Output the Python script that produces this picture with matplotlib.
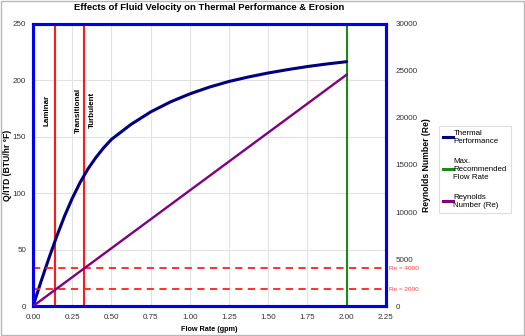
import matplotlib
matplotlib.use("Agg")
import matplotlib.pyplot as plt
import numpy as np

plt.rcParams['font.family'] = ['Liberation Sans', 'DejaVu Sans']

flow = [0.0, 0.05, 0.10, 0.15, 0.20, 0.25, 0.30, 0.35, 0.40, 0.45, 0.50, 0.625, 0.75, 0.875,
        1.00, 1.125, 1.25, 1.375, 1.50, 1.625, 1.75, 1.875, 2.00]
thermal = [0, 21.5, 42, 61.5, 79.5, 95.5, 109.5, 121.5, 131.5, 140.2, 147.7, 161, 172, 180.8,
           188, 194, 199, 203, 206.5, 209.5, 212.2, 214.5, 216.5]
re_flow = [0.0, 2.0]
reynolds = [0, 24600]
laminar_x = 0.137
transitional_x = 0.322
max_flow = 2.0
re_levels = [4000, 1800]
re_labels = ["Re = 4000", "Re = 2000"]
x_ticks = [0.0, 0.25, 0.5, 0.75, 1.0, 1.25, 1.5, 1.75, 2.0, 2.25]
y_ticks = [0, 50, 100, 150, 200, 250]
y2_ticks = [0, 5000, 10000, 15000, 20000, 25000, 30000]

fig = plt.figure(figsize=(5.25, 3.36), dpi=100)
fig.patch.set_facecolor('white')
fig.add_artist(plt.Rectangle((0.002, 0.003), 0.996, 0.994, transform=fig.transFigure,
                             fill=False, edgecolor='#b8b8b8', linewidth=1.0))

ax = fig.add_axes([0.063, 0.089, 0.672, 0.84])
ax2 = ax.twinx()

ax.set_xlim(0, 2.25)
ax.set_ylim(0, 250)
ax2.set_ylim(0, 30000)
ax.set_xticks(x_ticks)
ax.set_xticklabels([f"{v:.2f}" for v in x_ticks])
ax.set_yticks(y_ticks)
ax2.set_yticks(y2_ticks)
ax.grid(True, color='#e2e2e2', linewidth=0.8)
ax.set_axisbelow(True)

for a in (ax, ax2):
    for s in a.spines.values():
        s.set_color('#0000ee')
        s.set_linewidth(2.2)
    a.tick_params(length=0, labelsize=5.8, colors='#333333')
ax.tick_params(axis='y', pad=5)
ax.tick_params(axis='x', pad=6)
ax2.tick_params(axis='y', pad=7)

for lev in re_levels:
    ax2.axhline(lev, color='#ff2020', linestyle=(0, (4, 3)), linewidth=1.3, zorder=2)
for lev, lab in zip(re_levels, re_labels):
    ax2.text(2.27, lev, lab, color='#ff4040', fontsize=4.6, va='center', ha='left', clip_on=False)

ax.axvline(laminar_x, color='#ff1a1a', linewidth=1.5, zorder=3)
ax.axvline(transitional_x, color='#ff1a1a', linewidth=1.5, zorder=3)
ax.axvline(max_flow, color='#1a8a1a', linewidth=1.5, zorder=3)

ax.text(0.089, 173.5, "Laminar", rotation=90, fontsize=5.8, fontweight='bold', ha='center', va='center')
ax.text(0.292, 173.5, "Transitional", rotation=90, fontsize=5.8, fontweight='bold', ha='center', va='center')
ax.text(0.381, 174, "Turbulent", rotation=90, fontsize=5.8, fontweight='bold', ha='center', va='center')

l1, = ax.plot(flow, thermal, color='#000080', linewidth=2.2, zorder=4,
              solid_joinstyle='round', solid_capstyle='round')
l3, = ax2.plot(re_flow, reynolds, color='#800080', linewidth=1.7, zorder=4)
l2 = plt.Line2D([], [], color='#1a8a1a', linewidth=2.2)
l1h = plt.Line2D([], [], color='#000080', linewidth=2.2)
l3h = plt.Line2D([], [], color='#800080', linewidth=2.2)

ax.set_xlabel("Flow Rate (gpm)", fontsize=5.2, fontweight='bold')
ax.xaxis.set_label_coords(0.5, -0.071)
ax.set_ylabel("Q/ITD (BTU/hr °F)", fontsize=6.2, fontweight='bold')
ax.yaxis.set_label_coords(-0.06, 0.5)
ax2.set_ylabel("Reynolds Number (Re)", fontsize=6.2, fontweight='bold')
ax2.yaxis.set_label_coords(1.102, 0.5)
fig.suptitle("Effects of Fluid Velocity on Thermal Performance & Erosion", fontsize=6.8,
             fontweight='bold', x=0.398, y=0.99)

leg = fig.legend([l1h, l2, l3h], ["Thermal\nPerformance", "Max.\nRecommended\nFlow Rate", "Reynolds\nNumber (Re)"],
                 loc='upper left', bbox_to_anchor=(0.829, 0.636), fontsize=5.7, frameon=True,
                 fancybox=False, edgecolor='#d6d6d6', handlelength=1.2, handletextpad=0.1,
                 labelspacing=1.6, borderpad=0.5)
leg.get_frame().set_linewidth(0.8)

fig.savefig("out.png", dpi=100)
